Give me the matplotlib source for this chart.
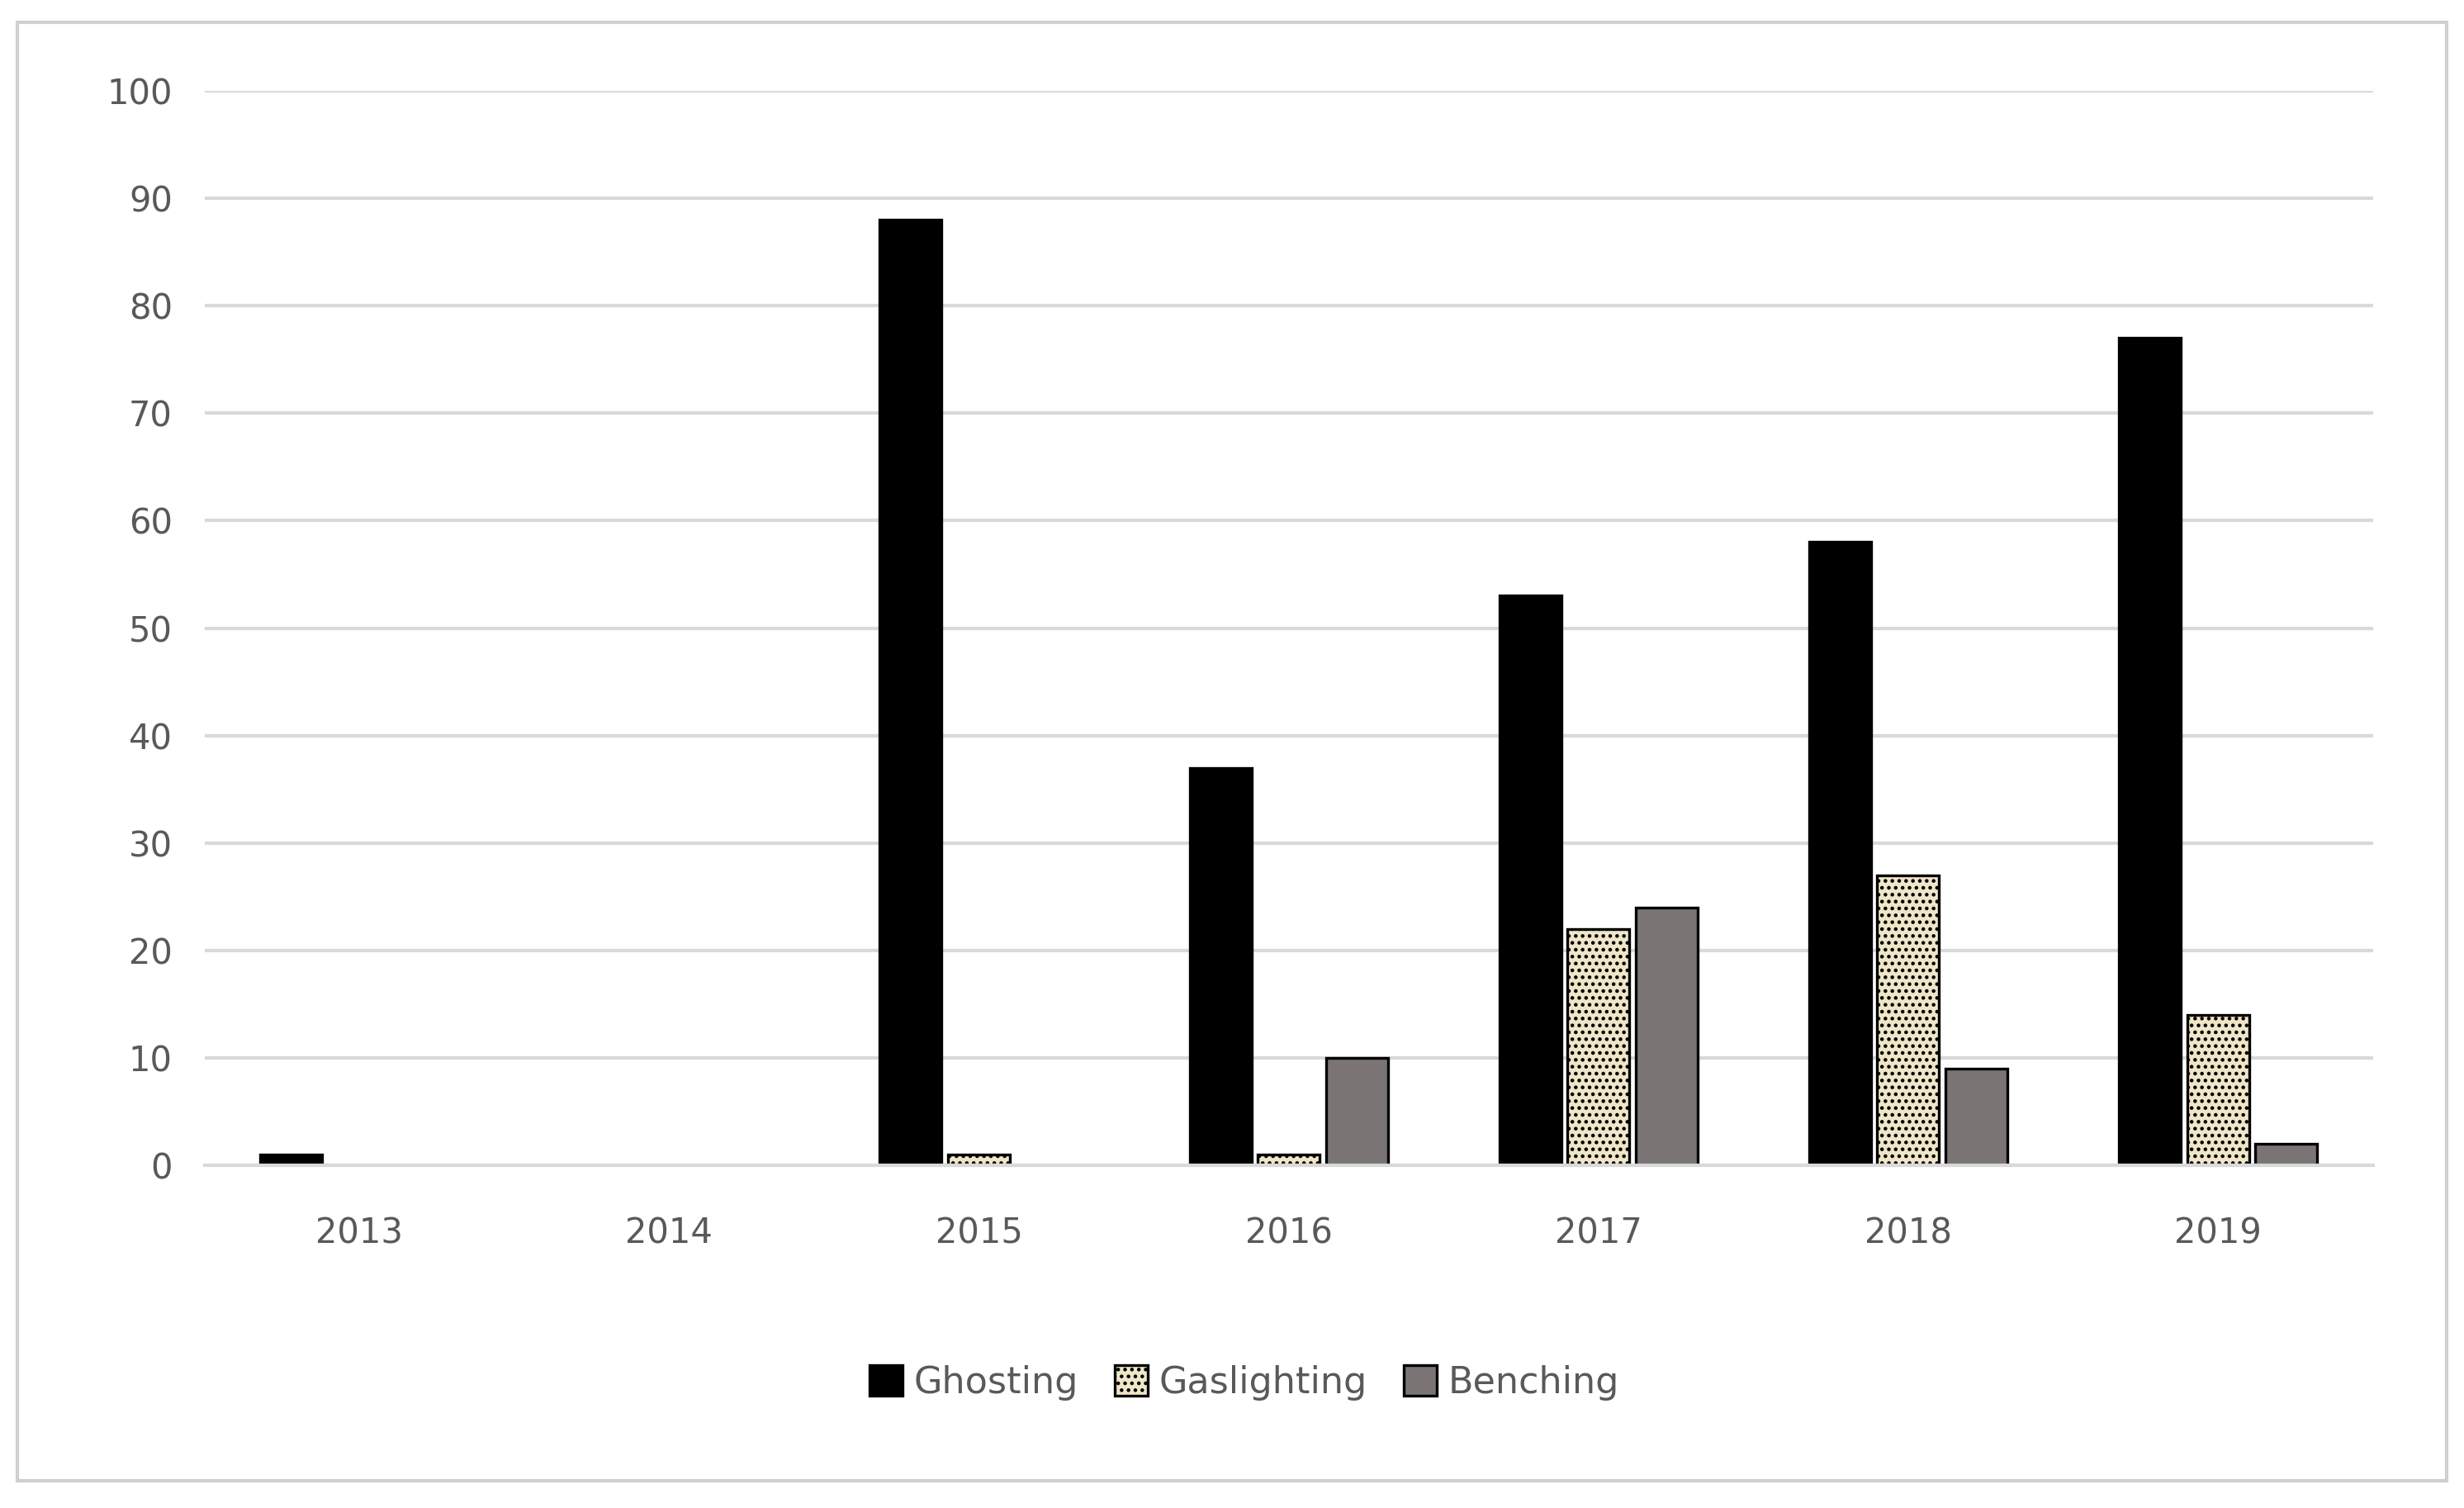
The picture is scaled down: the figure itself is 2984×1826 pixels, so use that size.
import matplotlib
matplotlib.use("Agg")
import matplotlib.pyplot as plt
import numpy as np
from matplotlib.patches import Rectangle

years = ["2013", "2014", "2015", "2016", "2017", "2018", "2019"]
ghosting = [1, 0, 88, 37, 53, 58, 77]
gaslighting = [0, 0, 1, 1, 22, 27, 14]
benching = [0, 0, 0, 10, 24, 9, 2]

fig = plt.figure(figsize=(14.92, 9.13), dpi=200)
fig.patches.append(Rectangle((0.007, 0.018), 0.986, 0.967, transform=fig.transFigure,
                             fill=False, edgecolor="#d0d0d0", linewidth=1.5))
ax = fig.add_axes([0.083, 0.227, 0.88, 0.713])
x = np.arange(len(years))
w = 0.2
step = 0.22
series = [(ghosting, "#000000", None, "Ghosting"),
          (gaslighting, "#efe6c8", "....", "Gaslighting"),
          (benching, "#7a7474", None, "Benching")]
for i, (vals, col, hatch, lab) in enumerate(series):
    ax.bar(x + (i - 1) * step, vals, w, color=col, edgecolor="black", linewidth=1.2,
           hatch=hatch, label=lab)
plt.rcParams['hatch.color'] = '#d8ceb0'
ax.set_ylim(0, 100)
ax.set_xlim(-0.5, 6.5)
ax.set_yticks(range(0, 101, 10))
ax.set_xticks(x)
ax.set_xticklabels(years)
ax.yaxis.grid(True, color="#d9d9d9", linewidth=1.5)
ax.set_axisbelow(True)
for s in ["top", "right", "left"]:
    ax.spines[s].set_visible(False)
ax.spines["bottom"].set_color("#d9d9d9")
ax.spines["bottom"].set_linewidth(1.5)
ax.tick_params(length=0, labelsize=15, colors="#595959", pad=14)
ax.tick_params(axis="x", pad=22)
leg = fig.legend(loc="center", bbox_to_anchor=(0.505, 0.083), ncol=3, frameon=False,
                 fontsize=16, handlelength=0.9, handleheight=0.9, columnspacing=1.0,
                 handletextpad=0.3)
for t in leg.get_texts():
    t.set_color("#595959")
fig.savefig("out.png", dpi=200)
